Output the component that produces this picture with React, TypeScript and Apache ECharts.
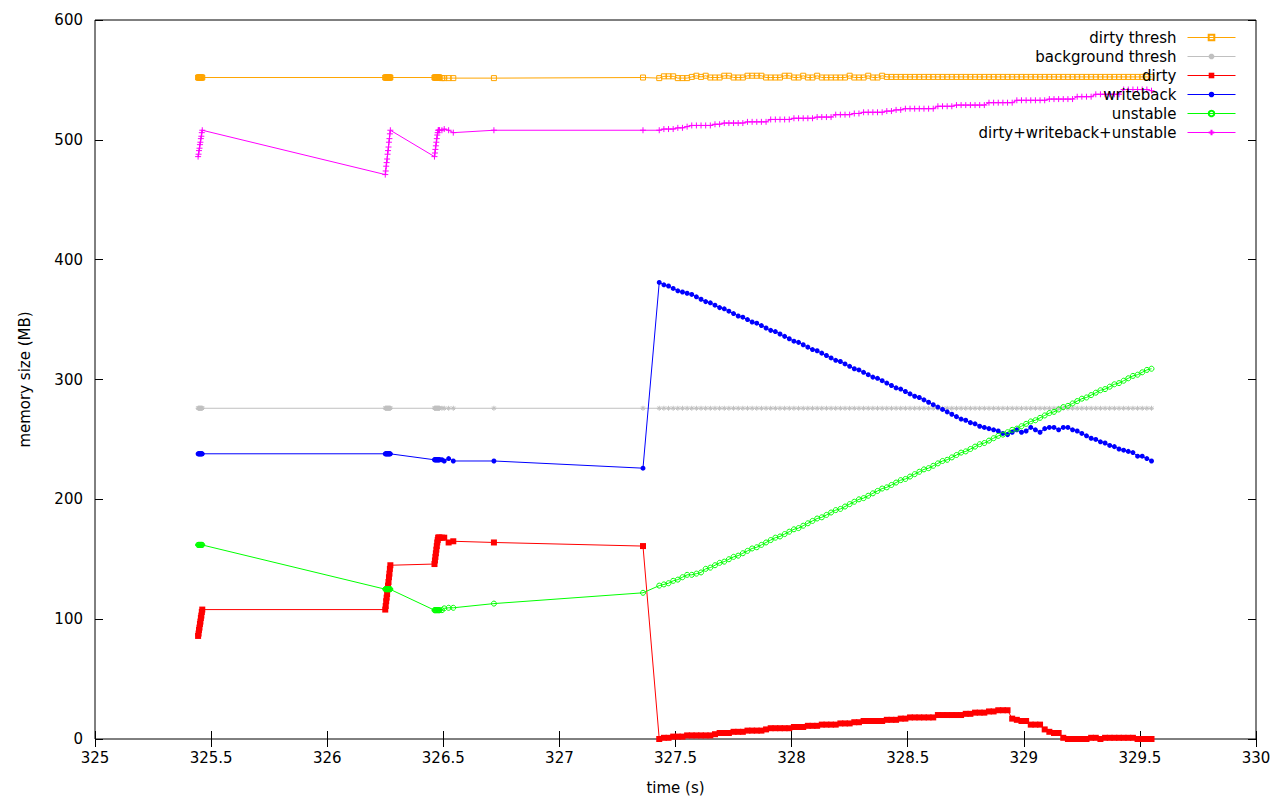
import React, { useEffect, useRef } from "react";
import * as echarts from "echarts";

// ---- time stamps (s) ----
const timesEarly = [
  325.444, 325.446, 325.448, 325.45, 325.452, 325.454, 325.456, 325.458, 325.46, 325.462,
  326.25, 326.252, 326.254, 326.256, 326.258, 326.26, 326.262, 326.264, 326.266, 326.268, 326.27, 326.272,
  326.462, 326.464, 326.466, 326.468, 326.47, 326.472, 326.474, 326.476, 326.478, 326.48, 326.482, 326.484,
  326.494, 326.504, 326.523, 326.543, 326.718, 327.36,
];
const timesLate = [
  327.43, 327.45, 327.47, 327.49, 327.51, 327.53, 327.55, 327.57, 327.59, 327.61,
  327.63, 327.65, 327.67, 327.69, 327.71, 327.73, 327.75, 327.77, 327.79, 327.81,
  327.83, 327.85, 327.87, 327.89, 327.91, 327.93, 327.95, 327.97, 327.99, 328.01,
  328.03, 328.05, 328.07, 328.09, 328.11, 328.13, 328.15, 328.17, 328.19, 328.21,
  328.23, 328.25, 328.27, 328.29, 328.31, 328.33, 328.35, 328.37, 328.39, 328.41,
  328.43, 328.45, 328.47, 328.49, 328.51, 328.53, 328.55, 328.57, 328.59, 328.61,
  328.63, 328.65, 328.67, 328.69, 328.71, 328.73, 328.75, 328.77, 328.79, 328.81,
  328.83, 328.85, 328.87, 328.89, 328.91, 328.93, 328.95, 328.97, 328.99, 329.01,
  329.03, 329.05, 329.07, 329.09, 329.11, 329.13, 329.15, 329.17, 329.19, 329.21,
  329.23, 329.25, 329.27, 329.29, 329.31, 329.33, 329.35, 329.37, 329.39, 329.41,
  329.43, 329.45, 329.47, 329.49, 329.51, 329.53, 329.55,
];

// ---- dirty thresh (MB) ----
const dirtyThreshEarly = [
  552, 552, 552, 552, 552, 552, 552, 552, 552, 552,
  552, 552, 552, 552, 552, 552, 552, 552, 552, 552, 552, 552,
  552, 552, 552, 552, 552, 552, 552, 552, 552, 552, 552, 552,
  551.5, 551.5, 551.5, 551.5, 551.5, 552,
];
const dirtyThreshLate = [
  551.5, 553, 553, 553, 551.5, 551.5, 551.5, 552.5, 553.5, 552.5,
  553.5, 552, 552, 552, 553.5, 553.5, 552, 552, 552, 553.5,
  553.5, 553.5, 553.5, 552, 552, 552, 552, 553.5, 553.5, 552,
  552, 553.5, 552, 552, 553.5, 552, 552, 552, 552, 552,
  552, 553.5, 552, 552, 552, 553.5, 552, 552, 553.5, 552.5,
  552.5, 552.5, 552.5, 552.5, 552.5, 552.5, 552.5, 552.5, 552.5, 552.5,
  552.5, 552.5, 552.5, 552.5, 552.5, 552.5, 552.5, 552.5, 552.5, 552.5,
  552.5, 552.5, 552.5, 552.5, 552.5, 552.5, 552.5, 552.5, 552.5, 552.5,
  552.5, 552.5, 552.5, 552.5, 552.5, 552.5, 552.5, 552.5, 552.5, 552.5,
  552.5, 552.5, 552.5, 552.5, 552.5, 552.5, 552.5, 552.5, 552.5, 552.5,
  552.5, 552.5, 552.5, 552.5, 552.5, 552.5, 552.5,
];

// ---- background thresh (MB) ----
const bgThreshEarly = [
  276, 276, 276, 276, 276, 276, 276, 276, 276, 276,
  276, 276, 276, 276, 276, 276, 276, 276, 276, 276, 276, 276,
  276, 276, 276, 276, 276, 276, 276, 276, 276, 276, 276, 276,
  276, 276, 276, 276, 276, 276,
];
const bgThreshLate = [
  276, 276, 276, 276, 276, 276, 276, 276, 276, 276,
  276, 276, 276, 276, 276, 276, 276, 276, 276, 276,
  276, 276, 276, 276, 276, 276, 276, 276, 276, 276,
  276, 276, 276, 276, 276, 276, 276, 276, 276, 276,
  276, 276, 276, 276, 276, 276, 276, 276, 276, 276,
  276, 276, 276, 276, 276, 276, 276, 276, 276, 276,
  276, 276, 276, 276, 276, 276, 276, 276, 276, 276,
  276, 276, 276, 276, 276, 276, 276, 276, 276, 276,
  276, 276, 276, 276, 276, 276, 276, 276, 276, 276,
  276, 276, 276, 276, 276, 276, 276, 276, 276, 276,
  276, 276, 276, 276, 276, 276, 276,
];

// ---- dirty (MB) ----
const dirtyEarly = [
  86, 88, 91, 93, 96, 98, 101, 103, 106, 108,
  108, 111, 115, 118, 121, 125, 128, 131, 135, 138, 142, 145,
  146, 149, 152, 155, 158, 161, 164, 166, 168, 168, 168, 168,
  168, 168, 164, 165, 164, 161,
];
const dirtyLate = [
  0, 1, 1, 2, 2, 2, 3, 3, 3, 3,
  3, 3, 4, 5, 5, 5, 6, 6, 6, 7,
  7, 7, 7, 8, 9, 9, 9, 9, 9, 10,
  10, 10, 11, 11, 11, 12, 12, 12, 12, 13,
  13, 13, 14, 14, 15, 15, 15, 15, 15, 16,
  16, 16, 17, 17, 18, 18, 18, 18, 18, 18,
  20, 20, 20, 20, 20, 20, 21, 21, 22, 22,
  22, 23, 23, 24, 24, 24, 17, 16, 15, 15,
  12, 12, 12, 8, 6, 5, 5, 1, 0, 0,
  0, 0, 0, 1, 1, 0, 1, 1, 1, 1,
  1, 1, 1, 0, 0, 0, 0,
];

// ---- writeback (MB) ----
const writebackEarly = [
  238, 238, 238, 238, 238, 238, 238, 238, 238, 238,
  238, 238, 238, 238, 238, 238, 238, 238, 238, 238, 238, 238,
  233, 233, 233, 233, 233, 233, 233, 233, 233, 233, 233, 233,
  233, 232, 234, 232, 232, 226,
];
const writebackLate = [
  381, 379, 378, 376, 374, 373, 372, 371, 369, 367,
  365, 364, 362, 360, 359, 357, 355, 353, 352, 350,
  348, 347, 345, 343, 341, 340, 338, 336, 334, 332,
  331, 329, 327, 325, 324, 322, 320, 318, 316, 315,
  313, 311, 309, 308, 306, 304, 302, 301, 299, 297,
  295, 293, 292, 290, 288, 286, 285, 283, 281, 279,
  277, 275, 273, 271, 269, 267, 266, 264, 263, 261,
  260, 259, 258, 257, 255, 254, 256, 258, 256, 257,
  260, 258, 256, 259, 260, 260, 258, 260, 260, 258,
  257, 255, 253, 251, 250, 248, 247, 245, 244, 242,
  241, 240, 239, 236, 236, 234, 232,
];

// ---- unstable (MB) ----
const unstableEarly = [
  162, 162, 162, 162, 162, 162, 162, 162, 162, 162,
  125, 125, 125, 125, 125, 125, 125, 125, 125, 125, 125, 125,
  107.5, 107.5, 107.5, 107.5, 107.5, 107.5, 107.5, 107.5, 107.5, 107.5, 107.5, 107.5,
  107.5, 109, 109.5, 109.5, 113, 122,
];
const unstableLate = [
  128, 129, 130, 132, 133, 135, 137, 137, 138, 139,
  142, 143, 145, 147, 148, 150, 152, 153, 155, 157,
  159, 160, 162, 164, 166, 168, 169, 171, 173, 175,
  176, 178, 180, 182, 184, 185, 187, 189, 191, 192,
  194, 196, 198, 200, 201, 203, 205, 207, 209, 210,
  212, 214, 216, 217, 219, 221, 223, 225, 226, 228,
  230, 232, 233, 235, 237, 239, 240, 242, 244, 246,
  247, 249, 251, 253, 254, 256, 258, 259, 261, 263,
  265, 266, 268, 270, 272, 273, 275, 277, 278, 280,
  282, 284, 285, 287, 289, 291, 292, 294, 296, 297,
  299, 301, 303, 304, 306, 308, 309,
];

// ---- dirty+writeback+unstable (MB) ----
const totalEarly = [
  486, 488, 491, 493, 496, 498, 501, 503, 506, 508,
  471, 474, 478, 481, 484, 488, 491, 494, 498, 501, 505, 508,
  486, 489, 492, 495, 498, 501, 504, 506, 508, 508, 508, 508,
  508, 509, 508, 506, 508, 508,
];
const totalLate = [
  508, 509, 509, 509, 510, 510, 511, 512, 512, 512,
  512, 512, 513, 513, 514, 514, 514, 514, 514, 515,
  515, 515, 515, 515, 517, 517, 517, 517, 517, 518,
  518, 518, 518, 518, 519, 519, 519, 519, 521, 521,
  521, 521, 522, 522, 523, 523, 523, 523, 523, 524,
  524, 525, 525, 526, 526, 526, 526, 526, 526, 526,
  528, 528, 528, 528, 529, 529, 529, 529, 529, 529,
  529, 531, 531, 531, 531, 531, 531, 533, 533, 533,
  533, 533, 533, 533, 534, 534, 534, 534, 534, 534,
  536, 536, 536, 536, 538, 538, 538, 538, 538, 538,
  542, 542, 542, 542, 542, 542, 541,
];

const seriesNames = [
  "dirty thresh",
  "background thresh",
  "dirty",
  "writeback",
  "unstable",
  "dirty+writeback+unstable",
];
const xTicks = { min: 325, max: 330, interval: 0.5 };
const yTicks = { min: 0, max: 600, interval: 100 };

const FONT = "DejaVu Sans";

const times = [...timesEarly, ...timesLate];

const PLUS = "path://M0,5L10,5M5,0L5,10";
const STAR = "path://M0,5L10,5M5,0L5,10M1.5,1.5L8.5,8.5M8.5,1.5L1.5,8.5";
const OPEN_SQUARE = "path://M0,0L10,0L10,10L0,10Z";

function makeSeries(
  name: string,
  values: number[],
  color: string,
  symbol: string,
  size: number,
  filled: boolean
) {
  return {
    name,
    type: "line",
    data: times.map((t, i) => [t, values[i]]),
    symbol,
    symbolSize: size,
    showSymbol: true,
    lineStyle: { color, width: 1 },
    itemStyle: filled
      ? { color, borderWidth: 0 }
      : { color: "rgba(0,0,0,0)", borderColor: color, borderWidth: 1 },
    emphasis: { disabled: true },
    animation: false,
  };
}

export default function App() {
  const ref = useRef<HTMLDivElement>(null);
  useEffect(() => {
    const chart = echarts.init(ref.current as HTMLDivElement, null, { renderer: "svg" });
    const tickStyle = { inside: true, length: 8, lineStyle: { color: "#000", width: 1 } };
    const option = {
      animation: false,
      backgroundColor: "#fff",
      grid: {
        left: 95,
        right: 24,
        top: 20,
        bottom: 60,
        show: true,
        borderColor: "#000",
        borderWidth: 1,
        backgroundColor: "transparent",
      },
      legend: {
        orient: "vertical",
        right: 44,
        top: 28,
        padding: 0,
        itemGap: 0,
        itemWidth: 48,
        itemHeight: 7,
        align: "right",
        selectedMode: false,
        data: seriesNames,
        lineStyle: { width: 1 },
        textStyle: {
          fontFamily: FONT,
          fontSize: 15,
          color: "#000",
          lineHeight: 19,
          padding: [0, 6, 0, 0],
        },
      },
      xAxis: [
        {
          type: "value",
          ...xTicks,
          position: "bottom",
          name: "time (s)",
          nameLocation: "middle",
          nameGap: 41,
          nameTextStyle: { fontFamily: FONT, fontSize: 15, color: "#000" },
          axisLine: { show: false },
          axisTick: tickStyle,
          axisLabel: { fontFamily: FONT, fontSize: 15, color: "#000", margin: 11 },
          splitLine: { show: false },
        },
        {
          type: "value",
          ...xTicks,
          position: "top",
          axisLine: { show: false },
          axisTick: tickStyle,
          axisLabel: { show: false },
          splitLine: { show: false },
        },
      ],
      yAxis: [
        {
          type: "value",
          ...yTicks,
          position: "left",
          name: "memory size (MB)",
          nameLocation: "middle",
          nameGap: 63,
          nameTextStyle: { fontFamily: FONT, fontSize: 15, color: "#000" },
          axisLine: { show: false },
          axisTick: tickStyle,
          axisLabel: { fontFamily: FONT, fontSize: 15, color: "#000", margin: 12 },
          splitLine: { show: false },
        },
        {
          type: "value",
          ...yTicks,
          position: "right",
          axisLine: { show: false },
          axisTick: tickStyle,
          axisLabel: { show: false },
          splitLine: { show: false },
        },
      ],
      series: [
        makeSeries(seriesNames[0], [...dirtyThreshEarly, ...dirtyThreshLate], "#ffa500", OPEN_SQUARE, 5, false),
        makeSeries(seriesNames[1], [...bgThreshEarly, ...bgThreshLate], "#c0c0c0", STAR, 5, false),
        makeSeries(seriesNames[2], [...dirtyEarly, ...dirtyLate], "#ff0000", "rect", 6, true),
        makeSeries(seriesNames[3], [...writebackEarly, ...writebackLate], "#0000ff", "circle", 5, true),
        makeSeries(seriesNames[4], [...unstableEarly, ...unstableLate], "#00ff00", "circle", 5, false),
        makeSeries(seriesNames[5], [...totalEarly, ...totalLate], "#ff00ff", PLUS, 6, false),
      ],
    };
    chart.setOption(option as any);
    return () => chart.dispose();
  }, []);
  return (
    <div
      ref={ref}
      style={{ position: "absolute", left: 0, top: 0, width: 1280, height: 800, background: "#fff" }}
    />
  );
}
